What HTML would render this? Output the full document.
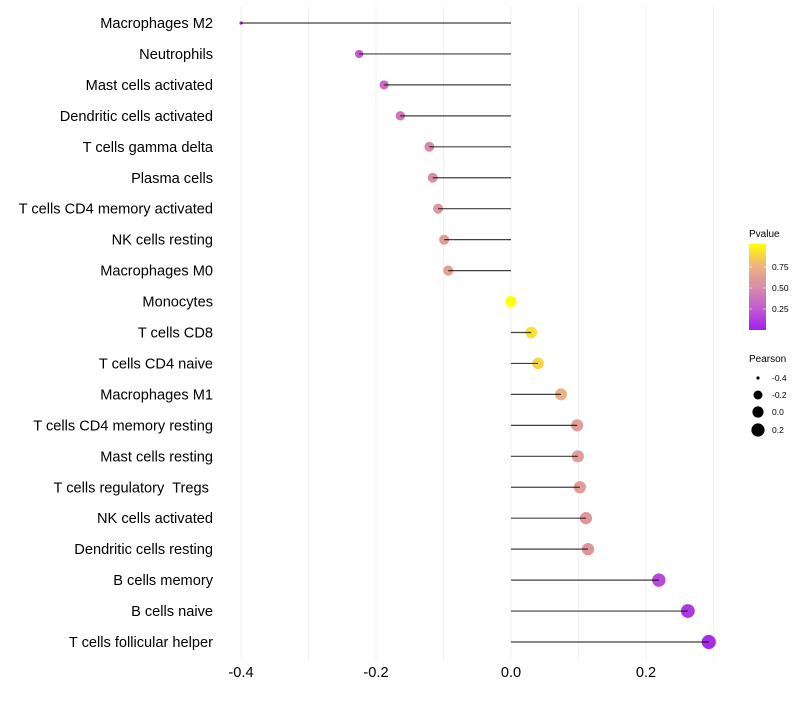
<!DOCTYPE html>
<html><head><meta charset="utf-8"><style>
body{margin:0;background:#fff;font-family:"Liberation Sans",Arial,sans-serif;}
#ylabels text{white-space:pre;}
</style></head><body>
<svg id="chart" width="800" height="700" xmlns="http://www.w3.org/2000/svg" font-family="Liberation Sans, Arial, sans-serif">
<defs>
<linearGradient id="pg" x1="0" y1="1" x2="0" y2="0">
<stop offset="0" stop-color="#A020F0"/><stop offset="0.25" stop-color="#C25BD0"/><stop offset="0.5" stop-color="#D98DA8"/><stop offset="0.75" stop-color="#EDB47F"/><stop offset="1" stop-color="#FFFF00"/>
</linearGradient>
</defs>
<g id="grid"></g>
<g id="marks"></g>
<g id="ylabels"></g>
<g id="xlabels"></g>
<g>
<text x="749" y="237" font-size="10" fill="#000">Pvalue</text>
<rect x="749" y="244" width="17" height="86" fill="url(#pg)"/>
<g stroke="#fff" stroke-opacity="0.6"><line x1="749" y1="267" x2="752" y2="267"/><line x1="763" y1="267" x2="766" y2="267"/><line x1="749" y1="288" x2="752" y2="288"/><line x1="763" y1="288" x2="766" y2="288"/><line x1="749" y1="309" x2="752" y2="309"/><line x1="763" y1="309" x2="766" y2="309"/></g>
<text x="772" y="270" font-size="8.5">0.75</text>
<text x="772" y="291" font-size="8.5">0.50</text>
<text x="772" y="312" font-size="8.5">0.25</text>
</g>
<g>
<text x="749" y="362" font-size="10">Pearson</text>
<circle cx="758" cy="378" r="1.6" fill="#000"/><text x="772" y="381" font-size="8.5">-0.4</text>
<circle cx="758" cy="395" r="4.5" fill="#000"/><text x="772" y="398" font-size="8.5">-0.2</text>
<circle cx="758" cy="412" r="5.6" fill="#000"/><text x="772" y="415" font-size="8.5">0.0</text>
<circle cx="758" cy="430" r="6.6" fill="#000"/><text x="772" y="433" font-size="8.5">0.2</text>
</g>
</svg>
<script>
const cells=["Macrophages M2","Neutrophils","Mast cells activated","Dendritic cells activated","T cells gamma delta","Plasma cells","T cells CD4 memory activated","NK cells resting","Macrophages M0","Monocytes","T cells CD8","T cells CD4 naive","Macrophages M1","T cells CD4 memory resting","Mast cells resting","T cells regulatory  Tregs ","NK cells activated","Dendritic cells resting","B cells memory","B cells naive","T cells follicular helper"];
const pearson=[-0.40,-0.225,-0.188,-0.164,-0.121,-0.116,-0.108,-0.099,-0.093,0.0,0.030,0.040,0.074,0.098,0.099,0.102,0.111,0.114,0.219,0.262,0.293];
const pvalue=[0.0,0.25,0.33,0.38,0.48,0.5,0.55,0.6,0.63,1.0,0.9,0.86,0.73,0.6,0.6,0.6,0.57,0.56,0.18,0.1,0.05];
const xticks=[-0.4,-0.2,0.0,0.2];
const gridTicks=[-0.4,-0.3,-0.2,-0.1,0,0.1,0.2,0.3];
const NS="http://www.w3.org/2000/svg";
const x=v=>511+v*675;
const y=i=>23+i*30.95;
const sizeBreaks=[-0.4,-0.2,0,0.2,0.3];
const sizeRadii=[1.6,4.5,5.6,6.6,7.1];
function rad(v){if(v<=sizeBreaks[0])return sizeRadii[0];for(let k=1;k<sizeBreaks.length;k++){if(v<=sizeBreaks[k]){const t=(v-sizeBreaks[k-1])/(sizeBreaks[k]-sizeBreaks[k-1]);return sizeRadii[k-1]+t*(sizeRadii[k]-sizeRadii[k-1]);}}return sizeRadii[sizeRadii.length-1];}
const stops=[[0,[160,32,240]],[0.25,[194,91,208]],[0.5,[217,141,168]],[0.75,[237,180,127]],[1,[255,255,0]]];
function col(p){for(let k=1;k<stops.length;k++){if(p<=stops[k][0]){const a=stops[k-1],b=stops[k],t=(p-a[0])/(b[0]-a[0]);return "rgb("+a[1].map((c,j)=>Math.round(c+(b[1][j]-c)*t)).join(",")+")";}}return "rgb(255,255,0)";}
function mk(tag,attrs,parent){const e=document.createElementNS(NS,tag);for(const k in attrs)e.setAttribute(k,attrs[k]);parent.appendChild(e);return e;}
const grid=document.getElementById('grid'),marks=document.getElementById('marks'),yl=document.getElementById('ylabels'),xl=document.getElementById('xlabels');
gridTicks.forEach(t=>{const l=mk('line',{x1:x(t),x2:x(t),y1:5,y2:660,stroke:'#f2f2f2','stroke-width':1},grid);

});
cells.forEach((c,i)=>{
const cc=mk('circle',{cx:x(pearson[i]),cy:y(i),r:rad(pearson[i]),fill:col(pvalue[i])},marks);


const ln=mk('line',{x1:x(0),x2:x(pearson[i]),y1:y(i),y2:y(i),stroke:'#000','stroke-opacity':0.75,'stroke-width':1.2},marks);


const t=mk('text',{x:213,y:y(i)+5,'text-anchor':'end','font-size':14.6,fill:'#000'},yl);t.textContent=c;


});
xticks.forEach(v=>{const t=mk('text',{x:x(v),y:677,'text-anchor':'middle','font-size':14.6,fill:'#000'},xl);t.textContent=v.toFixed(1);

});
</script>
</body></html>
